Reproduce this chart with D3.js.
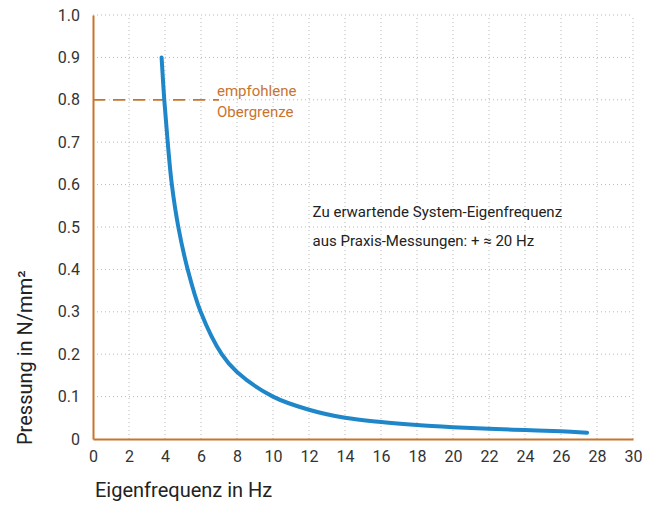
<!DOCTYPE html>
<html><head><meta charset="utf-8">
<script src="https://cdn.jsdelivr.net/npm/d3@7"></script>
<style>
body{margin:0;background:#fff;}
text{font-family:Roboto,"Open Sans",sans-serif;}
</style></head>
<body><svg id="c" width="654" height="506"></svg>
<script>
const freq = [3.81,3.96,4.15,4.38,4.74,5.26,5.98,7.15,8,10,12,14,16,18,20,22,24,26,27.45];
const pressure = [0.90,0.80,0.70,0.60,0.50,0.40,0.30,0.20,0.158,0.10,0.069,0.050,0.040,0.033,0.028,0.024,0.021,0.018,0.015];
const xTicks = d3.range(0,31,2);
const yTicks = [0,0.1,0.2,0.3,0.4,0.5,0.6,0.7,0.8,0.9,1.0];
const limit = 0.8;
const limitLabel = ["empfohlene","Obergrenze"];
const note = ["Zu erwartende System-Eigenfrequenz","aus Praxis-Messungen: + \u2248 20 Hz"];
const xTitle = "Eigenfrequenz in Hz";
const yTitle = "Pressung in N/mm\u00B2";

const svg = d3.select("#c");
const m = {l:93, r:21, t:15, b:67};
const W = 654, H = 506;
const x = d3.scaleLinear().domain([0,30]).range([m.l, W-m.r]);
const y = d3.scaleLinear().domain([0,1]).range([H-m.b, m.t]);
const orange = "#c8742f";

// grid
const g = svg.append("g");
g.selectAll(".vg").data(xTicks.filter(d=>d>0)).join("line")
  .attr("x1",d=>x(d)).attr("x2",d=>x(d)).attr("y1",y(0)).attr("y2",y(1))
  .attr("stroke","#b8b8b8").attr("stroke-width",1).attr("stroke-dasharray","1,3");
g.selectAll(".hg").data(yTicks.filter(d=>d>0)).join("line")
  .attr("x1",x(0)).attr("x2",x(30)).attr("y1",d=>y(d)).attr("y2",d=>y(d))
  .attr("stroke","#b8b8b8").attr("stroke-width",1).attr("stroke-dasharray","1,3");

// limit dashed line
svg.append("line").attr("x1",x(0)).attr("x2",x(7)).attr("y1",y(limit)).attr("y2",y(limit))
  .attr("stroke",orange).attr("stroke-width",1.8).attr("stroke-dasharray","12,8");

// axes
const xAxis = svg.append("g").attr("transform",`translate(0,${y(0)})`)
  .call(d3.axisBottom(x).tickValues(xTicks).tickSize(0).tickPadding(12).tickFormat(d3.format("d")));
const yAxis = svg.append("g").attr("transform",`translate(${x(0)},0)`)
  .call(d3.axisLeft(y).tickValues(yTicks).tickSize(0).tickPadding(13).tickFormat(d=>d===0?"0":d3.format(".1f")(d)));
[xAxis,yAxis].forEach(a=>{
  a.select(".domain").attr("stroke",orange).attr("stroke-width",2);
  a.selectAll("text").attr("fill","#333").style("font-size","16px").style("font-family","Roboto,sans-serif");
});

// curve
const pts = freq.map((f,i)=>[f,pressure[i]]);
svg.append("path").datum(pts)
  .attr("fill","none").attr("stroke","#1f87c9").attr("stroke-width",4).attr("stroke-linecap","round")
  .attr("d", d3.line().x(d=>x(d[0])).y(d=>y(d[1])).curve(d3.curveCatmullRom.alpha(0.5)));

// labels
svg.append("text").attr("x",x(7)-2).attr("y",y(limit)-4).attr("fill",orange).style("font-size","15px").text(limitLabel[0]);
svg.append("text").attr("x",x(7)-2).attr("y",y(limit)+17).attr("fill",orange).style("font-size","15px").text(limitLabel[1]);
svg.append("text").attr("x",x(12.2)).attr("y",y(0.523)).attr("fill","#222").style("font-size","15px").text(note[0]);
svg.append("text").attr("x",x(12.2)).attr("y",y(0.455)).attr("fill","#222").style("font-size","15px").text(note[1]);

svg.append("text").attr("x",x(0)+2).attr("y",H-9).attr("fill","#222").style("font-size","20px").text(xTitle);
svg.append("text").attr("transform",`translate(32,${y(0)+6}) rotate(-90)`).attr("fill","#222").style("font-size","20px").text(yTitle);
</script></body></html>
